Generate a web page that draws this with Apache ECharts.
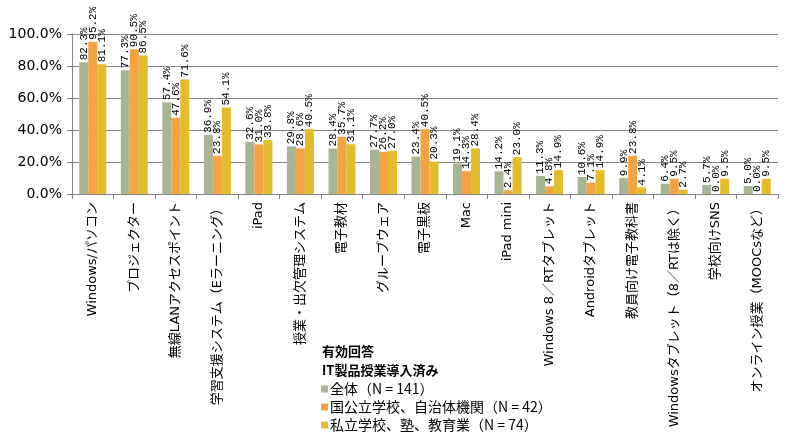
<!DOCTYPE html>
<html>
<head>
<meta charset="utf-8">
<script src="https://cdn.jsdelivr.net/npm/echarts@6/dist/echarts.min.js"></script>
<style>
html, body { margin: 0; padding: 0; background: #fff; }
#chart { width: 800px; height: 445px; }
</style>
</head>
<body>
<div id="chart"></div>
<script>
// 製品カテゴリ
var categories = [
    'Windows/パソコン', 'プロジェクター', '無線LANアクセスポイント', '学習支援システム（Eラーニング）',
    'iPad', '授業・出欠管理システム', '電子教材', 'グループウェア', '電子黒板', 'Mac', 'iPad mini',
    'Windows 8／RTタブレット', 'Androidタブレット', '教員向け電子教科書',
    'Windowsタブレット（8／RTは除く）', '学校向けSNS', 'オンライン授業（MOOCsなど）'
];

// 系列名
var seriesNames = ['全体（N = 141）', '国公立学校、自治体機関（N = 42）', '私立学校、塾、教育業（N = 74）'];

// 値 (%)
var totalValues   = [82.3, 77.3, 57.4, 36.9, 32.6, 29.8, 28.4, 27.7, 23.4, 19.1, 14.2, 11.3, 10.6, 9.9, 6.4, 5.7, 5.0];
var publicValues  = [95.2, 90.5, 47.6, 23.8, 31.0, 28.6, 35.7, 26.2, 40.5, 14.3, 2.4, 4.8, 7.1, 23.8, 9.5, 0.0, 0.0];
var privateValues = [81.1, 86.5, 71.6, 54.1, 33.8, 40.5, 31.1, 27.0, 20.3, 28.4, 23.0, 14.9, 14.9, 4.1, 2.7, 9.5, 9.5];

var colors = ['#A8B595', '#F2A444', '#E2BC2C'];
var font = '"DejaVu Sans", "Noto Sans CJK JP", sans-serif';
var cjkFont = '"Noto Sans CJK JP", sans-serif';
var monoFont = '"Liberation Mono", "Noto Sans CJK JP", monospace';

function makeSeries(name, data, color) {
    return {
        name: name,
        type: 'bar',
        data: data,
        barWidth: 9,
        barGap: '0%',
        itemStyle: { color: color },
        // 棒の上の数値 (縦書き)
        label: {
            show: true,
            position: 'top',
            rotate: 90,
            align: 'left',
            verticalAlign: 'middle',
            distance: 2,
            fontSize: 11,
            fontFamily: monoFont,
            color: '#000',
            formatter: function (p) { return p.value.toFixed(1) + '%'; }
        },
        animation: false
    };
}

var chart = echarts.init(document.getElementById('chart'));
var option = {
    color: colors,
    textStyle: { fontFamily: cjkFont },
    grid: { left: 72, right: 22, top: 34, bottom: 251, containLabel: false },
    // 凡例タイトル
    graphic: [{
        type: 'text',
        left: 322,
        top: 342,
        style: {
            text: '有効回答\nIT製品授業導入済み',
            fontSize: 13,
            fontWeight: 'bold',
            lineHeight: 19,
            fill: '#000',
            fontFamily: cjkFont
        }
    }],
    legend: {
        orient: 'vertical',
        left: 316,
        top: 377,
        itemWidth: 7,
        itemHeight: 7,
        itemGap: 4,
        icon: 'rect',
        textStyle: { fontSize: 14, color: '#000', fontFamily: cjkFont, padding: [0, 0, 0, -3] },
        data: seriesNames
    },
    xAxis: {
        type: 'category',
        data: categories,
        axisLine: { lineStyle: { color: '#868686' } },
        axisTick: { show: true, length: 5, lineStyle: { color: '#868686' } },
        axisLabel: {
            interval: 0,
            rotate: 90,
            margin: 8,
            fontSize: 13,
            color: '#000',
            fontFamily: font
        }
    },
    yAxis: {
        type: 'value',
        min: 0,
        max: 100,
        interval: 20,
        axisLine: { show: true, lineStyle: { color: '#868686' } },
        axisTick: { show: true, length: 5, lineStyle: { color: '#868686' } },
        splitLine: { lineStyle: { color: '#868686' } },
        axisLabel: {
            fontSize: 14,
            color: '#000',
            fontFamily: font,
            margin: 10,
            formatter: function (v) { return v.toFixed(1) + '%'; }
        }
    },
    series: [
        makeSeries(seriesNames[0], totalValues, colors[0]),
        makeSeries(seriesNames[1], publicValues, colors[1]),
        makeSeries(seriesNames[2], privateValues, colors[2])
    ]
};
chart.setOption(option);
</script>
</body>
</html>
